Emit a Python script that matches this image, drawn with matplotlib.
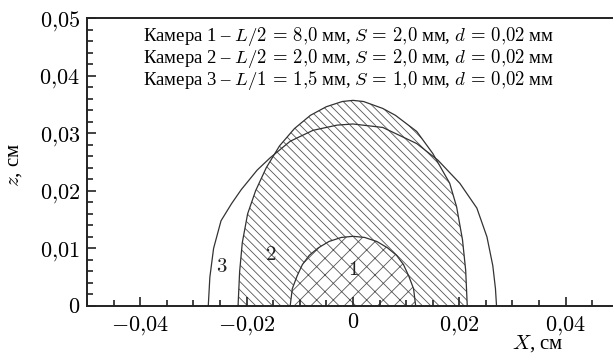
import matplotlib
matplotlib.use("Agg")
import matplotlib.pyplot as plt
from matplotlib.ticker import MultipleLocator, FuncFormatter

plt.rcParams['font.family'] = ['Liberation Serif', 'DejaVu Serif']
plt.rcParams['mathtext.fontset'] = 'cm'
plt.rcParams['hatch.linewidth'] = 0.6

# curve 1 - inner crosshatched spot
x1 = [-0.0118, -0.0114, -0.0105, -0.0095, -0.0082, -0.0065, -0.0045, -0.0022, 0.0,
      0.0022, 0.0045, 0.0065, 0.0082, 0.0095, 0.0105, 0.0114, 0.0118]
z1 = [0.0, 0.0030, 0.0052, 0.0072, 0.0088, 0.0101, 0.0112, 0.0119, 0.0121,
      0.0119, 0.0112, 0.0101, 0.0088, 0.0072, 0.0052, 0.0030, 0.0]

# curve 2 - hatched, tall and narrow
x2 = [-0.0216, -0.0213, -0.0208, -0.0198, -0.0183, -0.0163, -0.0138, -0.011, -0.008,
      -0.005, -0.002, 0.0, 0.002, 0.0056, 0.008, 0.012, 0.015, 0.0182, 0.0195,
      0.0206, 0.0212, 0.0215]
z2 = [0.0, 0.0060, 0.0110, 0.0160, 0.0200, 0.0240, 0.0278, 0.0308, 0.0331,
      0.0346, 0.0355, 0.0357, 0.0355, 0.0343, 0.0331, 0.0303, 0.0265, 0.0213, 0.0172,
      0.0115, 0.0062, 0.0]

# curve 3 - outline only, wide and lower
x3 = [-0.0272, -0.0269, -0.0262, -0.0248, -0.0228, -0.021, -0.018, -0.0156, -0.0118,
      -0.0075, -0.003, 0.0, 0.0056, 0.012, 0.016, 0.0201, 0.0233, 0.0252, 0.0263,
      0.0268, 0.027]
z3 = [0.0, 0.0050, 0.0100, 0.0148, 0.0178, 0.0202, 0.0236, 0.0257, 0.0286,
      0.0305, 0.0314, 0.0316, 0.0310, 0.0282, 0.0253, 0.0213, 0.0170, 0.0120, 0.0070,
      0.0030, 0.0]

legend_lines = [
    "Камера 1 – $L/2\\,=\\,8{,}0$ мм, $S\\,=\\,2{,}0$ мм, $d\\,=\\,0{,}02$ мм",
    "Камера 2 – $L/2\\,=\\,2{,}0$ мм, $S\\,=\\,2{,}0$ мм, $d\\,=\\,0{,}02$ мм",
    "Камера 3 – $L/1\\,=\\,1{,}5$ мм, $S\\,=\\,1{,}0$ мм, $d\\,=\\,0{,}02$ мм",
]
curve_labels = ["1", "2", "3"]
label_x = [0.0, -0.0155, -0.0246]
label_z = [0.0062, 0.0087, 0.0066]

EDGE = '#333333'
HATCH = '#555555'


def comma_fmt(v, pos):
	if abs(v) < 1e-9:
		return "$0$"
	s = "%g" % round(v, 4)
	s = s.replace('.', '{,}')
	return "$" + s + "$"


fig = plt.figure(figsize=(6.13, 3.53), dpi=100)
ax = fig.add_axes([87 / 613, 47 / 353, 526 / 613, 288 / 353])

# hatch drawn with a grey edge, outline on top in darker grey
ax.fill(x2, z2, facecolor='white', edgecolor=HATCH, hatch='\\\\\\\\', lw=0)
ax.fill(x1, z1, facecolor='white', edgecolor=HATCH, hatch='xx', lw=0)
ax.plot(x2, z2, color=EDGE, lw=0.9)
ax.plot(x1, z1, color=EDGE, lw=0.9)
ax.plot(x3, z3, color=EDGE, lw=0.9)

for t, lx, lz in zip(curve_labels, label_x, label_z):
	ax.text(lx, lz, "$" + t + "$", fontsize=15, ha='center', va='center', color='#222222')

ax.set_xlim(-0.05, 0.0489)
ax.set_ylim(0, 0.05)
ax.xaxis.set_major_locator(MultipleLocator(0.02))
ax.xaxis.set_minor_locator(MultipleLocator(0.005))
ax.yaxis.set_major_locator(MultipleLocator(0.01))
ax.yaxis.set_minor_locator(MultipleLocator(0.002))
ax.xaxis.set_major_formatter(FuncFormatter(comma_fmt))
ax.yaxis.set_major_formatter(FuncFormatter(comma_fmt))
ax.tick_params(which='both', direction='in', top=False, right=False, color='#222222', width=1.2)
ax.tick_params(which='major', length=6.5, labelsize=16)
ax.tick_params(which='minor', length=4)
ax.tick_params(axis='x', which='major', pad=6)
ax.tick_params(axis='y', which='major', pad=5)
ax.spines['right'].set_visible(False)
for s in ['left', 'bottom', 'top']:
	ax.spines[s].set_linewidth(1.4)
	ax.spines[s].set_color('#222222')

# legend block
for i, line in enumerate(legend_lines):
	fig.text(143 / 613, 1 - (36 + 22 * i) / 353, line, fontsize=13.5, ha='left', va='center')

fig.text(14 / 613, 1 - 165 / 353, "$z$, см", fontsize=15, rotation=90, ha='center', va='center')
fig.text(538 / 613, 1 - 344 / 353, "$X$, см", fontsize=15, ha='center', va='center')

fig.savefig("out.png", dpi=100)
